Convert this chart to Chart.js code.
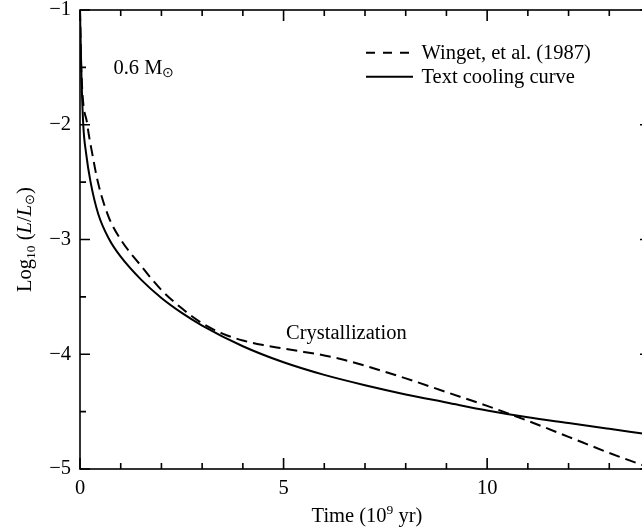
<!DOCTYPE html>
<html>
<head>
<meta charset="utf-8">
<script src="https://cdn.jsdelivr.net/npm/chart.js@4.4.0/dist/chart.umd.min.js"></script>
<style>
html, body { margin: 0; padding: 0; background: #fff; overflow: hidden; }
#wrap { width: 650px; height: 529px; }
</style>
</head>
<body>
<div id="wrap"><canvas id="chart" width="650" height="529"></canvas></div>
<script>
// time in 10^9 yr, luminosity as log10(L/Lsun)
const wingetTime = [0, 0.03, 0.18, 0.3, 0.44, 0.7, 1.0, 1.5, 2.0, 2.5, 3.0, 3.5, 4.0, 4.5, 5.0, 5.5, 6.0, 6.5, 7.0, 8.0, 9.0, 10.0, 11.0, 12.0, 13.0, 14.0];
const wingetLum = [-1.0, -1.5, -2.0, -2.25, -2.5, -2.8, -3.0, -3.23, -3.44, -3.6, -3.73, -3.82, -3.88, -3.92, -3.95, -3.98, -4.01, -4.05, -4.1, -4.21, -4.33, -4.45, -4.58, -4.72, -4.86, -4.99];

const textTime = [0, 0.03, 0.08, 0.15, 0.26, 0.45, 0.72, 1.0, 1.5, 2.0, 2.5, 3.0, 4.0, 5.0, 6.0, 7.0, 8.0, 9.0, 10.0, 11.0, 12.0, 13.0, 14.0];
const textLum = [-1.0, -1.5, -2.0, -2.25, -2.5, -2.78, -3.0, -3.15, -3.35, -3.51, -3.64, -3.75, -3.93, -4.07, -4.18, -4.27, -4.35, -4.42, -4.49, -4.55, -4.6, -4.65, -4.7];

const xLabels = [0, 5, 10];
const yLabels = [-5, -4, -3, -2, -1];

const FONT = 'Liberation Serif';
const SIZE = 20.5;

function toPoints(xs, ys) {
  return xs.map((x, i) => ({ x: x, y: ys[i] }));
}

// draw a row of text pieces, each with its own style / size / vertical shift
function richText(c, x, y, parts) {
  parts.forEach(p => {
    c.font = (p.italic ? 'italic ' : '') + (p.size || SIZE) + 'px "' + FONT + '"';
    c.fillText(p.t, x, y + (p.dy || 0));
    x += c.measureText(p.t).width;
  });
}
function richWidth(c, parts) {
  let w = 0;
  parts.forEach(p => {
    c.font = (p.italic ? 'italic ' : '') + (p.size || SIZE) + 'px "' + FONT + '"';
    w += c.measureText(p.t).width;
  });
  return w;
}

const framePlugin = {
  id: 'frame',
  afterDraw(chart) {
    const c = chart.ctx;
    const a = chart.chartArea;
    const xs = chart.scales.x;
    const ys = chart.scales.y;
    c.save();
    c.strokeStyle = '#000';
    c.fillStyle = '#000';
    c.lineWidth = 1.6;
    c.setLineDash([]);
    c.strokeRect(a.left, a.top, a.right - a.left, a.bottom - a.top);

    // ticks pointing inward on all four sides
    c.beginPath();
    xs.ticks.forEach(t => {
      const px = xs.getPixelForValue(t.value);
      const len = xLabels.includes(t.value) ? 11 : 6;
      c.moveTo(px, a.bottom); c.lineTo(px, a.bottom - len);
      c.moveTo(px, a.top); c.lineTo(px, a.top + len);
    });
    ys.ticks.forEach(t => {
      const py = ys.getPixelForValue(t.value);
      const len = yLabels.includes(t.value) ? 10 : 6;
      c.moveTo(a.left, py); c.lineTo(a.left + len, py);
      c.moveTo(a.right, py); c.lineTo(a.right - len, py);
    });
    c.stroke();

    c.textAlign = 'left';
    c.textBaseline = 'alphabetic';

    // legend
    chart.data.datasets.forEach((ds, i) => {
      const ly = 52.7 + i * 24;
      c.beginPath();
      c.lineWidth = 2;
      c.setLineDash(i === 0 ? [9, 8] : []);
      c.moveTo(366, ly);
      c.lineTo(413, ly);
      c.stroke();
      c.setLineDash([]);
      richText(c, 421.5, ly + 5.8, [{ t: ds.label }]);
    });

    // notes inside the plot
    richText(c, xs.getPixelForValue(0.82), ys.getPixelForValue(-1.558), [
      { t: '0.6 M' }, { t: '\u2299', size: 14, dy: 3 }
    ]);
    richText(c, xs.getPixelForValue(5.06), ys.getPixelForValue(-3.867), [{ t: 'Crystallization' }]);

    // x axis title
    const xt = [{ t: 'Time (10' }, { t: '9', size: 13.5, dy: -8 }, { t: ' yr)' }];
    richText(c, (a.left + a.right) / 2 + 2 - richWidth(c, xt) / 2, 521.7, xt);

    // y axis title
    const yt = [
      { t: 'Log' }, { t: '10', size: 13.5, dy: 4 }, { t: ' (' },
      { t: 'L', italic: true }, { t: '/' }, { t: 'L', italic: true },
      { t: '\u2299', size: 12.5, dy: 3 }, { t: ')' }
    ];
    c.translate(30.5, (a.top + a.bottom) / 2);
    c.rotate(-Math.PI / 2);
    richText(c, -richWidth(c, yt) / 2, 0, yt);
    c.restore();
  }
};

const ctx = document.querySelector('#chart').getContext('2d');

new Chart(ctx, {
  type: 'line',
  data: {
    datasets: [
      {
        label: 'Winget, et al. (1987)',
        data: toPoints(wingetTime, wingetLum),
        borderColor: '#000',
        borderWidth: 2,
        borderDash: [11, 6],
        pointRadius: 0,
        cubicInterpolationMode: 'monotone',
        fill: false
      },
      {
        label: 'Text cooling curve',
        data: toPoints(textTime, textLum),
        borderColor: '#000',
        borderWidth: 2,
        pointRadius: 0,
        cubicInterpolationMode: 'monotone',
        fill: false
      }
    ]
  },
  options: {
    responsive: false,
    animation: false,
    layout: { padding: { top: 10, left: 0, right: 0, bottom: 0 } },
    plugins: {
      legend: { display: false },
      tooltip: { enabled: false }
    },
    scales: {
      x: {
        type: 'linear',
        min: 0,
        max: 14,
        grid: { display: false, drawTicks: false },
        border: { display: false },
        ticks: {
          stepSize: 1,
          autoSkip: false,
          maxRotation: 0,
          padding: 7,
          color: '#000',
          font: { family: FONT, size: SIZE },
          callback: v => xLabels.includes(v) ? String(v) : ''
        },
        afterFit: s => {
          s.height = 60;
          s.paddingLeft = 0;
          s.paddingRight = 0;
        }
      },
      y: {
        type: 'linear',
        min: -5,
        max: -1,
        grid: { display: false, drawTicks: false },
        border: { display: false },
        ticks: {
          stepSize: 0.5,
          autoSkip: false,
          padding: 9,
          color: '#000',
          font: { family: FONT, size: SIZE },
          callback: v => yLabels.includes(v) ? '\u2212' + Math.abs(v) : ''
        },
        afterFit: s => {
          s.width = 80;
          s.paddingTop = 0;
          s.paddingBottom = 0;
        }
      }
    }
  },
  plugins: [framePlugin]
});
</script>
</body>
</html>
